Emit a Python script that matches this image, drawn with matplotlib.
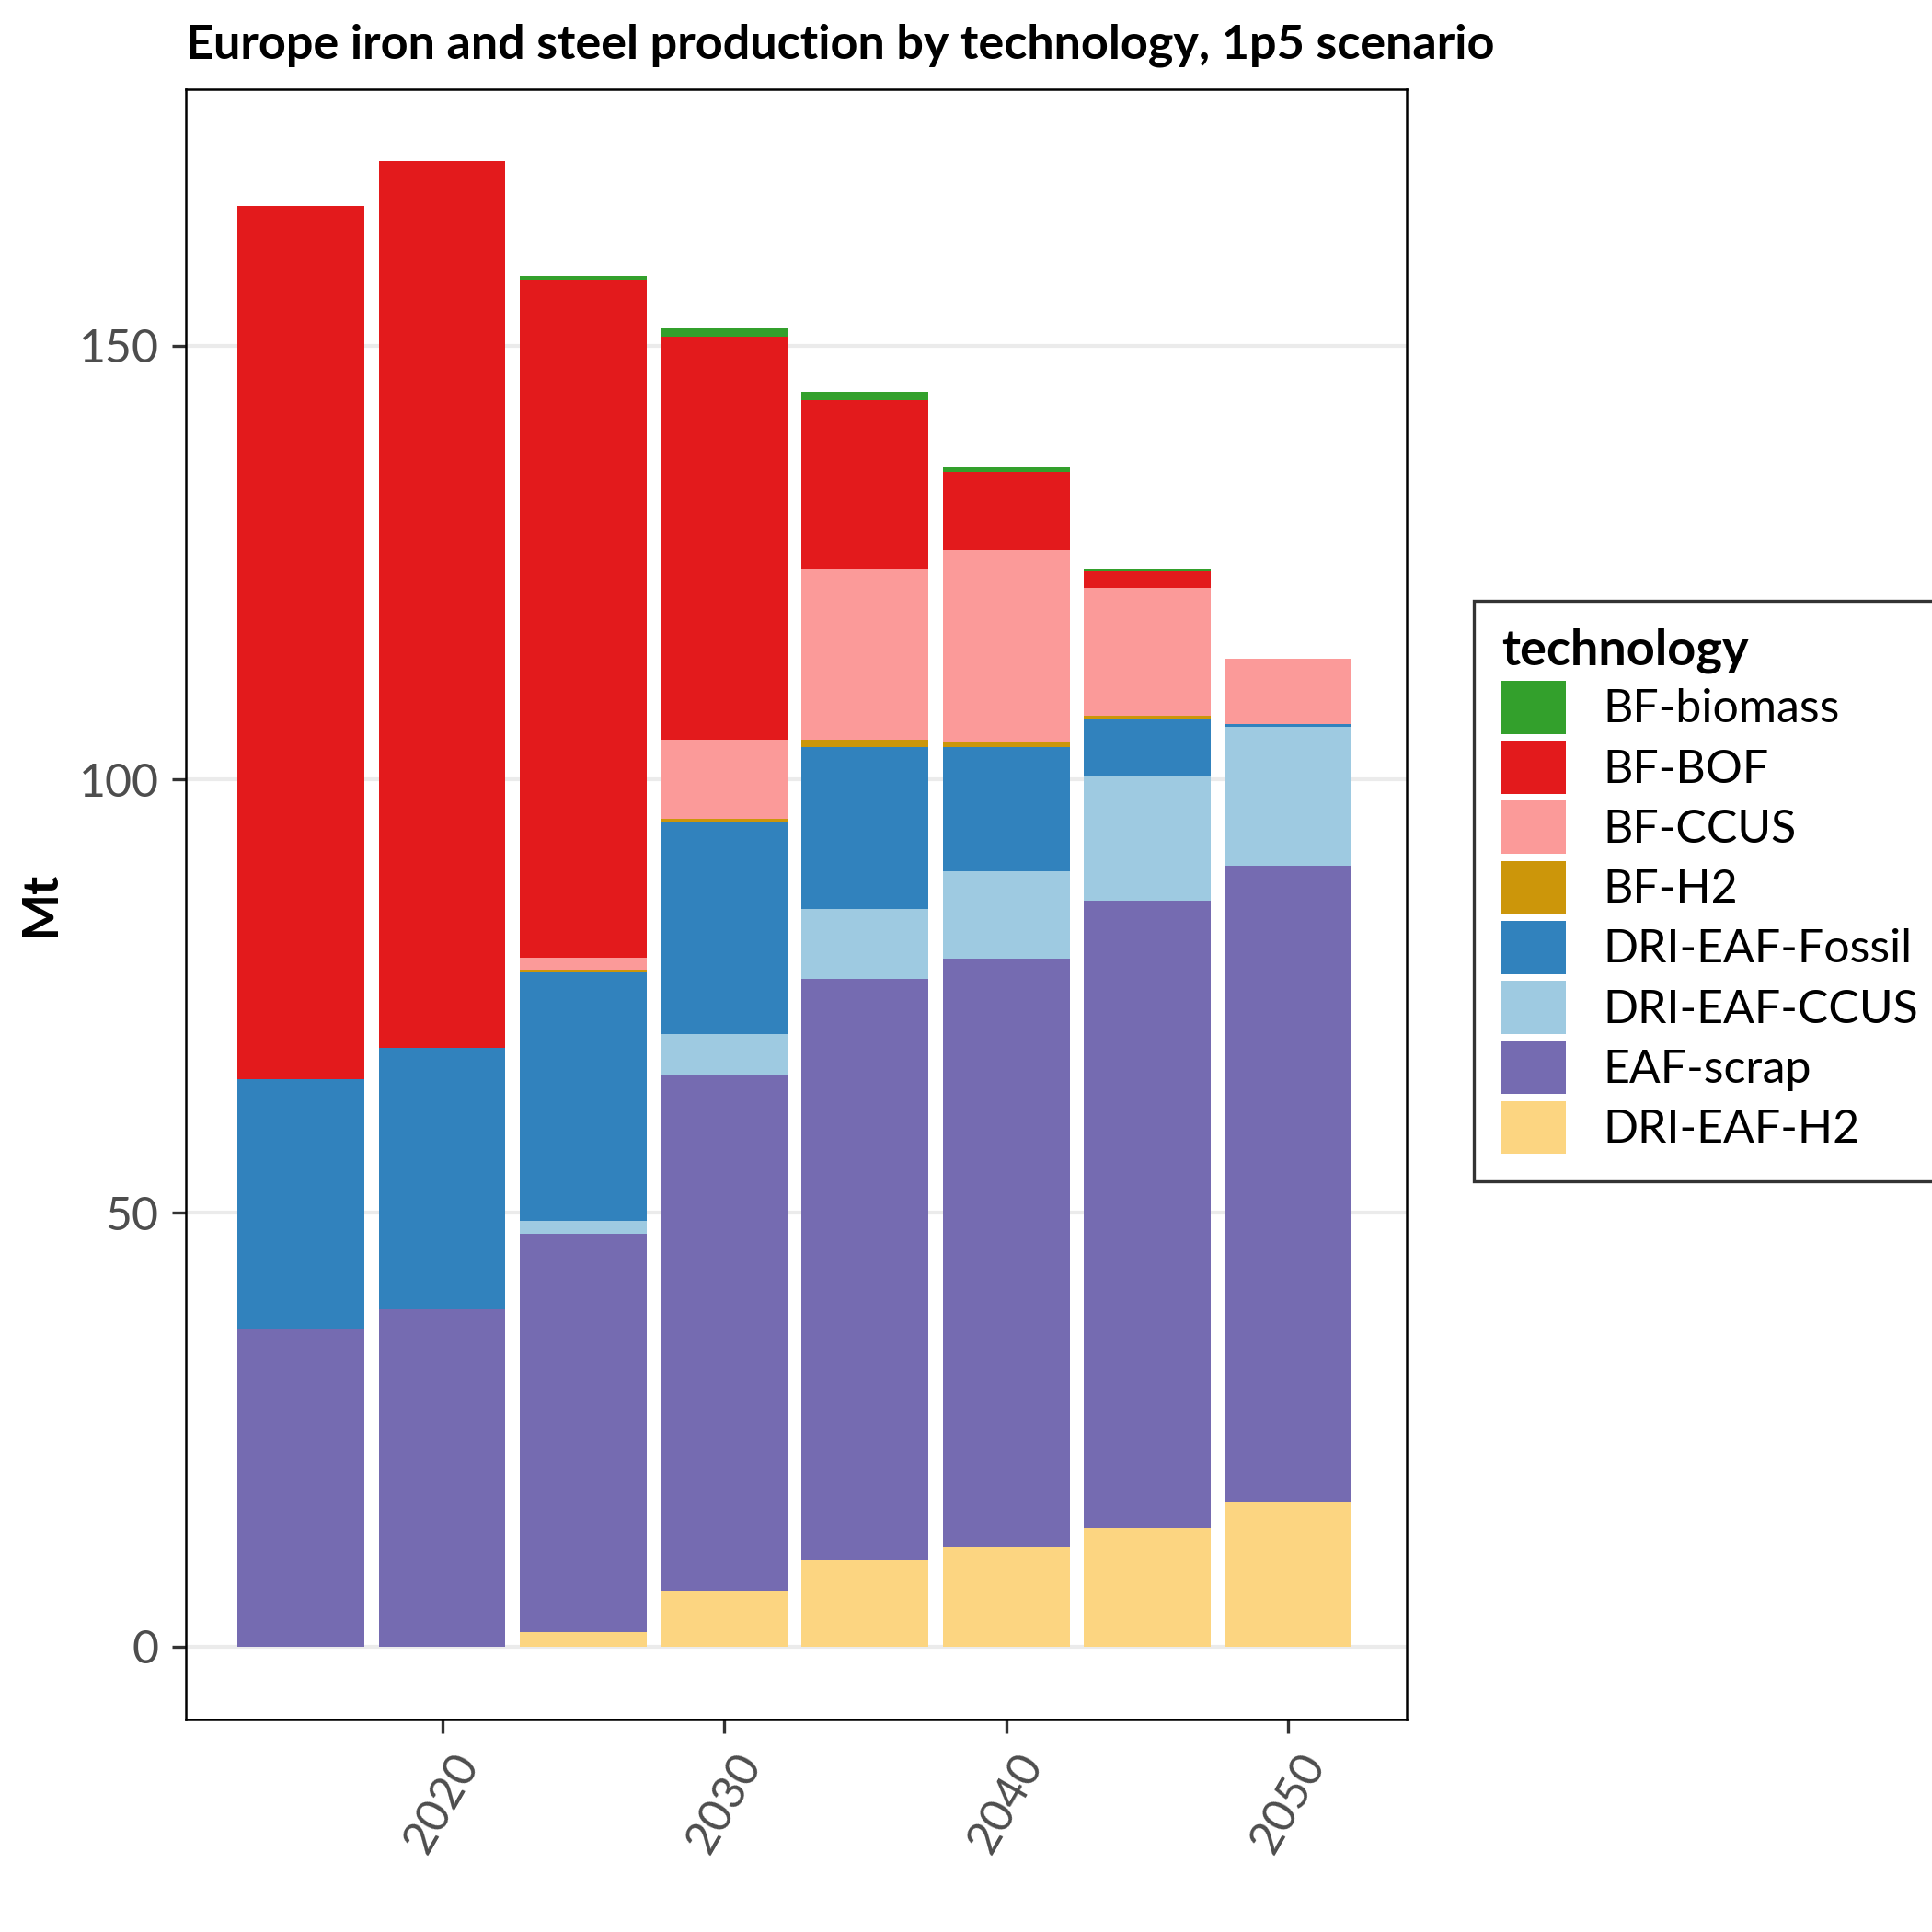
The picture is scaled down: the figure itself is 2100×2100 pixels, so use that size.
import matplotlib.pyplot as plt
import numpy as np

plt.rcParams['font.family'] = ['Lato', 'DejaVu Sans']

years = [2015, 2020, 2025, 2030, 2035, 2040, 2045, 2050]
# stacking order, bottom to top
techs = ['DRI-EAF-H2', 'EAF-scrap', 'DRI-EAF-CCUS', 'DRI-EAF-Fossil',
         'BF-H2', 'BF-CCUS', 'BF-BOF', 'BF-biomass']
dri_h2 = [0, 0, 1.7, 6.4, 10.0, 11.4, 13.7, 16.6]
eaf_scrap = [36.6, 38.9, 45.9, 59.5, 67.0, 67.9, 72.3, 73.4]
dri_ccus = [0, 0, 1.5, 4.7, 8.0, 10.1, 14.3, 16.1]
dri_fossil = [28.8, 30.1, 28.6, 24.5, 18.7, 14.3, 6.7, 0.3]
bf_h2 = [0, 0, 0.3, 0.3, 0.9, 0.6, 0.3, 0]
bf_ccus = [0, 0, 1.4, 9.2, 19.7, 22.1, 14.8, 7.5]
bf_bof = [100.7, 102.3, 78.2, 46.4, 19.4, 9.0, 1.9, 0]
bf_biomass = [0, 0, 0.4, 1.0, 1.0, 0.6, 0.3, 0]
series = [dri_h2, eaf_scrap, dri_ccus, dri_fossil, bf_h2, bf_ccus, bf_bof, bf_biomass]
colors = ['#fcd581', '#756bb1', '#9ecae1', '#3182bd',
          '#cc960a', '#fb9a99', '#e31a1c', '#33a02c']

fig = plt.figure(figsize=(7, 7), dpi=300)
ax = fig.add_axes([0.096, 0.110, 0.632, 0.844])

bottom = np.zeros(len(years))
handles = []
for name, vals, col in zip(techs, series, colors):
    b = ax.bar(years, vals, width=4.5, bottom=bottom, color=col, label=name, linewidth=0)
    handles.append(b)
    bottom += np.array(vals)

ax.set_xlim(2010.9, 2054.2)
ax.set_ylim(-8.4, 179.6)
ax.set_yticks([0, 50, 100, 150])
ax.set_xticks([2020, 2030, 2040, 2050])
ax.tick_params(axis='x', labelrotation=60, labelsize=12, colors='#4d4d4d')
ax.tick_params(axis='y', labelsize=12, colors='#4d4d4d')
for lab in ax.get_xticklabels():
    lab.set_color('#4d4d4d')
ax.tick_params(color='#333333')
ax.grid(axis='y', color='#ebebeb', linewidth=1)
ax.set_axisbelow(True)
for s in ax.spines.values():
    s.set_linewidth(0.6)
ax.set_ylabel('Mt', fontsize=13, fontweight='bold')
ax.set_title('Europe iron and steel production by technology, 1p5 scenario',
             fontsize=12.5, fontweight='bold', loc='left', x=0.0, pad=8)

leg = fig.legend(handles[::-1], techs[::-1], loc='upper left', bbox_to_anchor=(0.751, 0.701),
                 title='technology', fontsize=12, title_fontproperties={'weight': 'bold', 'size': 13},
                 frameon=True, fancybox=False, edgecolor='black', handlelength=1.4,
                 handleheight=1.4, labelspacing=0.15, borderpad=0.6, alignment='left')
leg.get_frame().set_linewidth(0.8)

fig.savefig('out.png', dpi=300)
